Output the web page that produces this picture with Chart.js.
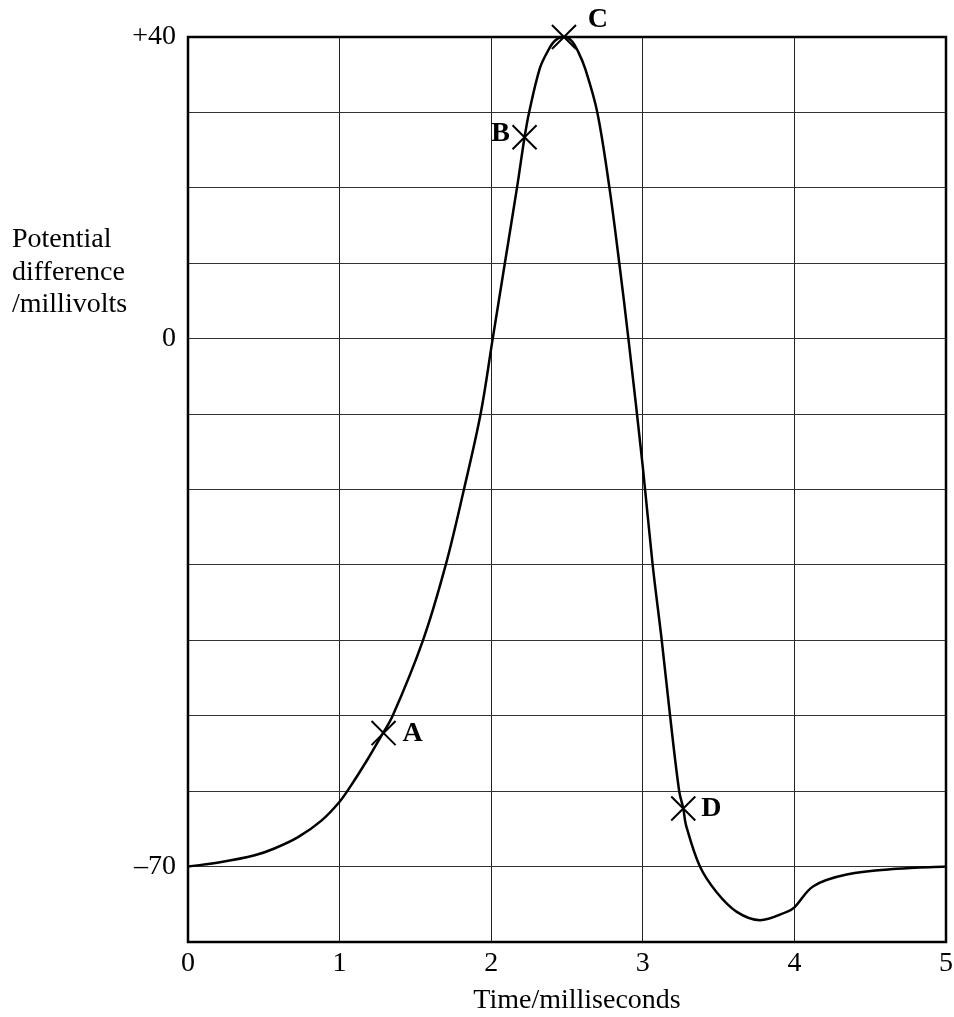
<!DOCTYPE html>
<html>
<head>
<meta charset="utf-8">
<script src="https://cdn.jsdelivr.net/npm/chart.js@4"></script>
<style>
  html, body { margin: 0; padding: 0; background: #fff; overflow: hidden; }
  #wrap { width: 954px; height: 1017px; position: relative; }
  canvas { display: block; }
</style>
</head>
<body>
<div id="wrap"><canvas id="ap-chart"></canvas></div>
<script>
// time in ms, potential difference in mV
const timeMs = [0, 0.22, 0.44, 0.57, 0.726, 0.88, 1.0, 1.077, 1.187, 1.264, 1.35, 1.55, 1.7, 1.82, 1.93, 2.01, 2.09, 2.17, 2.22, 2.25, 2.32, 2.37, 2.42, 2.48, 2.53, 2.575, 2.62, 2.7, 2.78, 2.845, 2.905, 3.0, 3.065, 3.125, 3.18, 3.24, 3.267, 3.285, 3.377, 3.487, 3.62, 3.773, 3.95, 4.0, 4.125, 4.345, 4.675, 5.0];
const potentialMv = [-70, -69.4, -68.5, -67.6, -66.1, -63.9, -61.4, -59.2, -55.7, -53.05, -50, -40, -30, -20, -10, 0, 10, 20, 26.7, 30, 35.8, 38, 39.5, 40, 39.5, 38, 35.8, 30, 20, 10, 0, -17, -30, -40, -50, -60, -62.3, -64.5, -70, -73.4, -76, -77.1, -76, -75.4, -72.6, -71.05, -70.3, -70];

// labelled points on the curve
const pointNames = ["A", "B", "C", "D"];
const pointTimes = [1.29, 2.22, 2.48, 3.267];
const pointValues = [-52.3, 26.7, 40, -62.3];

// y tick labels that are printed (grid every 10 mV)
const yTickValues = [40, 0, -70];
const yTickLabels = ["+40", "0", "\u201370"];

const yTitleLines = ["Potential", "difference", "/millivolts"];
const xTitle = "Time/milliseconds";

const SERIF = "'Liberation Serif', 'Times New Roman', serif";

// where each letter sits next to its cross
const labelOffset = {
  A: [29, 1],
  B: [-24, -4],
  C: [34, -17],
  D: [28, 0]
};

const extras = {
  id: "extras",
  afterDatasetsDraw(chart) {
    const ctx = chart.ctx;
    const area = chart.chartArea;
    ctx.save();
    // frame round the plot
    ctx.strokeStyle = "#000";
    ctx.lineWidth = 2.5;
    ctx.strokeRect(area.left, area.top, area.right - area.left, area.bottom - area.top);

    // letters by the crosses
    const meta = chart.getDatasetMeta(1);
    ctx.fillStyle = "#000";
    ctx.font = "bold 28px " + SERIF;
    ctx.textBaseline = "middle";
    ctx.textAlign = "center";
    meta.data.forEach((pt, i) => {
      const off = labelOffset[pointNames[i]];
      ctx.fillText(pointNames[i], pt.x + off[0], pt.y + off[1]);
    });

    // y title, horizontal, left of the ticks
    ctx.font = "28px " + SERIF;
    ctx.textAlign = "left";
    ctx.textBaseline = "alphabetic";
    yTitleLines.forEach((line, i) => {
      ctx.fillText(line, 12, 247 + i * 32.5);
    });

    // x title
    ctx.textAlign = "center";
    ctx.fillText(xTitle, 577, 1008);
    ctx.restore();
  }
};

const ctx = document.getElementById("ap-chart");

new Chart(ctx, {
  type: "line",
  data: {
    datasets: [
      {
        label: "Potential difference",
        data: timeMs.map((t, i) => ({ x: t, y: potentialMv[i] })),
        borderColor: "#000",
        borderWidth: 2.5,
        pointRadius: 0,
        fill: false,
        tension: 0.35
      },
      {
        label: "Points",
        type: "scatter",
        data: pointTimes.map((t, i) => ({ x: t, y: pointValues[i] })),
        showLine: false,
        pointStyle: "crossRot",
        pointRadius: 17,
        borderColor: "#000",
        borderWidth: 2,
        clip: false
      }
    ]
  },
  options: {
    responsive: true,
    maintainAspectRatio: false,
    animation: false,
    layout: {
      autoPadding: false,
      padding: { top: 37, right: 8, left: 0, bottom: 0 }
    },
    plugins: {
      legend: { display: false },
      tooltip: { enabled: false }
    },
    scales: {
      x: {
        type: "linear",
        min: 0,
        max: 5,
        grid: { color: "#222", lineWidth: 1, drawTicks: false },
        border: { display: false },
        ticks: {
          stepSize: 1,
          padding: 5,
          color: "#000",
          font: { family: SERIF, size: 28 }
        },
        afterFit(scale) {
          scale.height = 75;
          scale.paddingLeft = 0;
          scale.paddingRight = 0;
        }
      },
      y: {
        type: "linear",
        min: -80,
        max: 40,
        grid: { color: "#333", lineWidth: 1, drawTicks: false },
        border: { display: false },
        ticks: {
          stepSize: 10,
          autoSkip: false,
          padding: 12,
          color: "#000",
          font: { family: SERIF, size: 28 },
          callback(v) {
            const k = yTickValues.indexOf(v);
            return k === -1 ? "" : yTickLabels[k];
          }
        },
        afterFit(scale) {
          scale.width = 188;
          scale.paddingTop = 0;
          scale.paddingBottom = 0;
        }
      }
    }
  },
  plugins: [extras]
});
</script>
</body>
</html>
